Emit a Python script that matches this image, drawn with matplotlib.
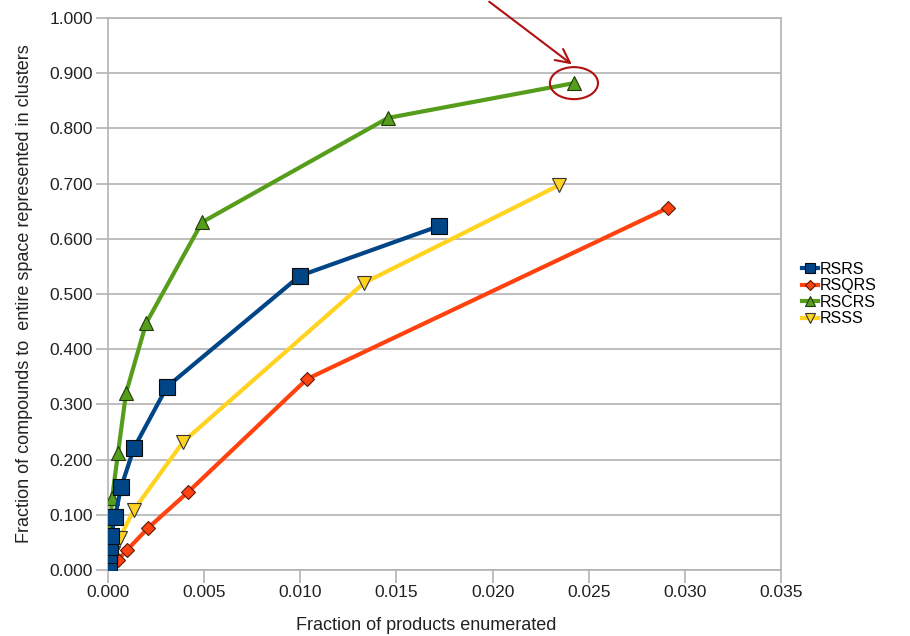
import matplotlib
matplotlib.use('Agg')
import matplotlib.pyplot as plt
from matplotlib.patches import Ellipse, FancyArrowPatch
from matplotlib.ticker import FormatStrFormatter, MultipleLocator

plt.rcParams['font.family'] = ['Liberation Sans', 'DejaVu Sans']

# data
rsrs_x = [0.00002, 0.00004, 0.00007, 0.0001, 0.00016, 0.00036, 0.00068, 0.00135, 0.00307, 0.00998, 0.01721]
rsrs_y = [0.004, 0.013, 0.027, 0.042, 0.062, 0.096, 0.150, 0.221, 0.332, 0.533, 0.623]

rsqrs_x = [0.0001, 0.0005, 0.00099, 0.00208, 0.00416, 0.01035, 0.02912]
rsqrs_y = [0.005, 0.018, 0.036, 0.076, 0.141, 0.346, 0.656]

rscrs_x = [0.00003, 0.00008, 0.00021, 0.00052, 0.00094, 0.00198, 0.00489, 0.01456, 0.02423]
rscrs_y = [0.02, 0.06, 0.130, 0.212, 0.321, 0.447, 0.630, 0.819, 0.882]

rsss_x = [0.00005, 0.00026, 0.0006, 0.00135, 0.0039, 0.01331, 0.02345]
rsss_y = [0.01, 0.031, 0.058, 0.109, 0.232, 0.520, 0.697]

fig = plt.figure(figsize=(9.1, 6.36), dpi=100)
ax = fig.add_axes([0.1187, 0.1038, 0.7396, 0.8679])

ax.plot(rsqrs_x, rsqrs_y, color='#ff420e', lw=3, marker='D', ms=7,
        mfc='#ff420e', mec='#5a1a08', mew=0.8, label='RSQRS', zorder=3)
ax.plot(rsss_x, rsss_y, color='#ffd320', lw=3, marker='v', ms=10,
        mfc='#ffd320', mec='#333333', mew=0.8, label='RSSS', zorder=3)
ax.plot(rscrs_x, rscrs_y, color='#579d1c', lw=3, marker='^', ms=10,
        mfc='#579d1c', mec='#1e3a0a', mew=0.8, label='RSCRS', zorder=4)
ax.plot(rsrs_x, rsrs_y, color='#004586', lw=3, marker='s', ms=11,
        mfc='#004586', mec='#0a0a0a', mew=0.8, label='RSRS', zorder=5)

ax.set_xlim(0, 0.035)
ax.set_ylim(0, 1.0)
ax.xaxis.set_major_locator(MultipleLocator(0.005))
ax.yaxis.set_major_locator(MultipleLocator(0.1))
ax.xaxis.set_major_formatter(FormatStrFormatter('%.3f'))
ax.yaxis.set_major_formatter(FormatStrFormatter('%.3f'))
ax.grid(axis='y', color='#b3b3b3', lw=1.2)
ax.set_axisbelow(True)
for s in ax.spines.values():
    s.set_color('#b3b3b3')
    s.set_linewidth(1.2)
ax.tick_params(colors='#b3b3b3', labelcolor='#222222', labelsize=12.5,
               length=9, width=1.2, pad=2)

ax.set_xlabel('Fraction of products enumerated', fontsize=13, color='#222222', labelpad=12)
ax.xaxis.set_label_coords(0.4725, -0.085)
ax.set_ylabel('Fraction of compounds to  entire space represented in clusters',
              fontsize=13, color='#222222', labelpad=12)

# legend in the order of the reference
h, l = ax.get_legend_handles_labels()
order = [3, 0, 2, 1]
ax.legend([h[i] for i in order], [l[i] for i in order], loc='center left',
          bbox_to_anchor=(1.01, 0.5), frameon=False, fontsize=11.5,
          handlelength=1.0, handletextpad=0.1, labelspacing=0.1, markerscale=0.7)

# annotation: circle and arrow
ell = Ellipse((0.02423, 0.882), 0.0025, 0.058, fill=False, ec='#b01010', lw=1.5,
              zorder=6)
ax.add_patch(ell)
arr = FancyArrowPatch((487 / 910, 1.0), (574 / 910, 1 - 66 / 636),
                      transform=fig.transFigure, arrowstyle='->,head_length=10,head_width=5',
                      color='#b01010', lw=1.5)
fig.patches.append(arr)

fig.savefig('out.png', dpi=100)
